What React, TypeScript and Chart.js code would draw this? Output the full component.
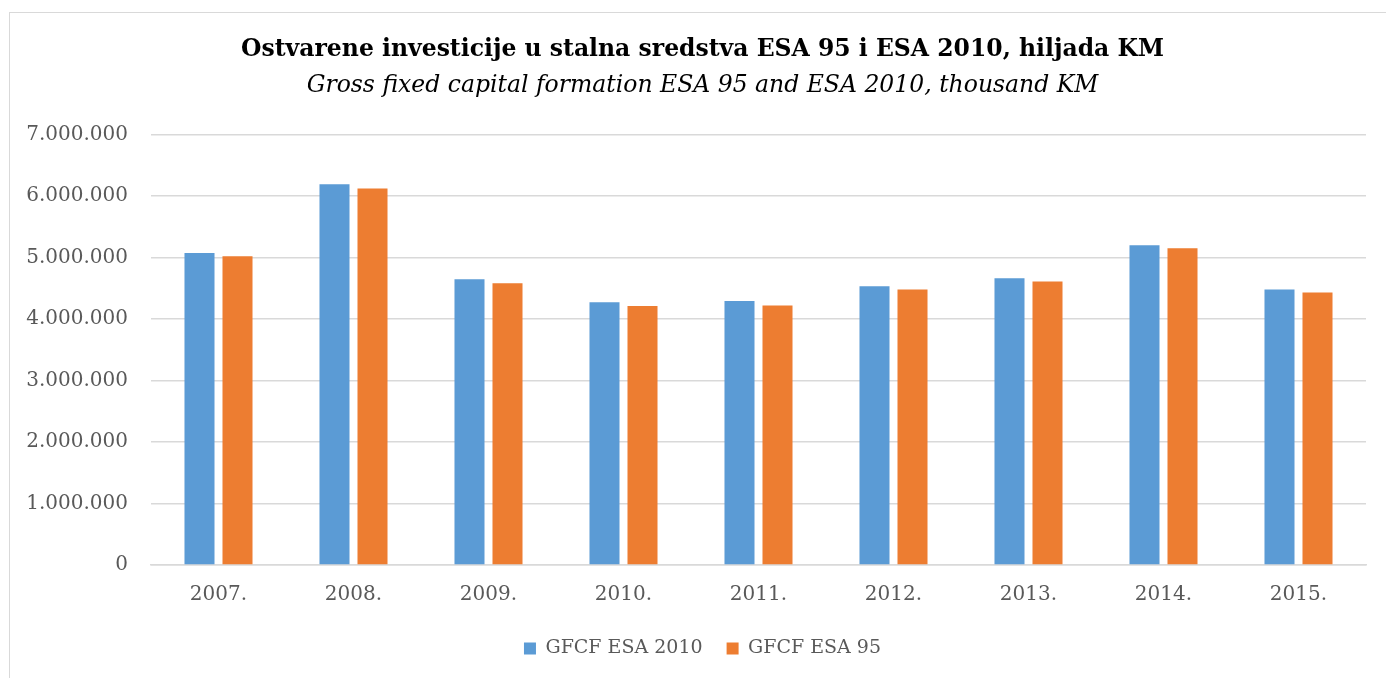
import { useEffect, useRef } from "react";
import { Chart, registerables } from "chart.js";

Chart.register(...registerables);

const categories = ["2007.", "2008.", "2009.", "2010.", "2011.", "2012.", "2013.", "2014.", "2015."];
const gfcfEsa2010 = [5070000, 6190000, 4645000, 4270000, 4290000, 4530000, 4660000, 5200000, 4480000];
const gfcfEsa95 = [5020000, 6120000, 4580000, 4210000, 4220000, 4480000, 4610000, 5150000, 4430000];
const seriesLabels = ["GFCF ESA 2010", "GFCF ESA 95"];
const titleText = "Ostvarene investicije u stalna sredstva ESA 95 i ESA 2010, hiljada KM";
const subtitleText = "Gross fixed capital formation ESA 95 and ESA 2010, thousand KM";

const FONT = "'DejaVu Serif', serif";

function formatDots(v: number): string {
  const s = Math.round(v).toString();
  return s.replace(/\B(?=(\d{3})+(?!\d))/g, ".");
}

export default function App() {
  const ref = useRef<HTMLCanvasElement | null>(null);

  useEffect(() => {
    if (!ref.current) return;
    const chart = new Chart(ref.current, {
      type: "bar",
      data: {
        labels: categories,
        datasets: [
          {
            label: seriesLabels[0],
            data: gfcfEsa2010,
            backgroundColor: "#5B9BD5",
            barPercentage: 0.79,
            categoryPercentage: 0.563,
          },
          {
            label: seriesLabels[1],
            data: gfcfEsa95,
            backgroundColor: "#ED7D31",
            barPercentage: 0.79,
            categoryPercentage: 0.563,
          },
        ],
      },
      options: {
        animation: false,
        responsive: true,
        maintainAspectRatio: false,
        layout: { padding: { left: 39, right: 20, top: 0, bottom: 10 } },
        plugins: {
          title: {
            display: true,
            text: titleText,
            color: "#000000",
            font: { family: FONT, size: 23.5, weight: "bold" },
            padding: { top: 36, bottom: 0 },
          },
          subtitle: {
            display: true,
            text: subtitleText,
            color: "#000000",
            font: { family: FONT, size: 23.5, style: "italic" },
            padding: { top: 8, bottom: 34 },
          },
          legend: {
            position: "bottom",
            labels: {
              boxWidth: 12,
              boxHeight: 12,
              color: "#595959",
              font: { family: FONT, size: 19 },
              padding: 24,
            },
          },
          tooltip: { enabled: false },
        },
        scales: {
          x: {
            afterFit: (scale: any) => {
              scale.height = scale.height - 10;
              scale._computeLabelArea = () => undefined;
            },
            grid: { display: false, drawTicks: false },
            border: { display: true, color: "#d9d9d9", width: 1.5 },
            ticks: { color: "#595959", font: { family: FONT, size: 20 }, padding: 18 },
          },
          y: {
            min: 0,
            max: 7000000,
            afterFit: (scale: any) => {
              scale.width = 112;
              scale._computeLabelArea = () => undefined;
            },
            grid: { color: "#d9d9d9", lineWidth: 1.5, drawTicks: false },
            border: { display: false },
            ticks: {
              stepSize: 1000000,
              color: "#595959",
              font: { family: FONT, size: 20 },
              padding: 23,
              callback: (v: any) => formatDots(Number(v)),
            },
          },
        },
      },
    });
    return () => chart.destroy();
  }, []);

  return (
    <div style={{ position: "fixed", left: 0, top: 0, width: 1386, height: 678, background: "#fff", overflow: "hidden" }}>
      <div
        style={{
          position: "absolute",
          left: 9,
          top: 12,
          width: 1420,
          height: 720,
          border: "1px solid #d9d9d9",
          boxSizing: "border-box",
        }}
      />
      <div style={{ position: "absolute", left: 0, top: 0, width: 1386, height: 678 }}>
        <canvas ref={ref} />
      </div>
    </div>
  );
}
